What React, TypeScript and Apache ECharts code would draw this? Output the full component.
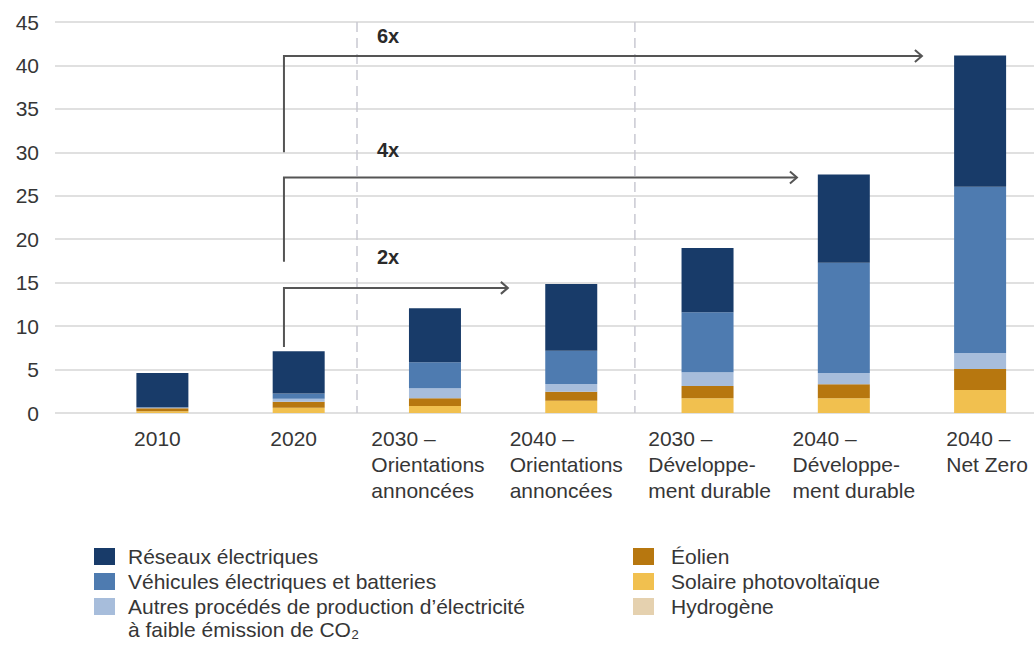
import React, { useEffect, useRef } from "react";
import * as echarts from "echarts";

const categories = [
  "2010",
  "2020",
  "2030 –\nOrientations\nannoncées",
  "2040 –\nOrientations\nannoncées",
  "2030 –\nDéveloppe-\nment durable",
  "2040 –\nDéveloppe-\nment durable",
  "2040 –\nNet Zero",
];

const solaire = [0.2, 0.6, 0.8, 1.4, 1.7, 1.7, 2.65];
const eolien = [0.35, 0.7, 0.9, 1.05, 1.4, 1.6, 2.4];
const hydrogene = [0, 0, 0, 0, 0, 0, 0];
const autres = [0.05, 0.35, 1.15, 0.9, 1.6, 1.3, 1.85];
const vehicules = [0.05, 0.6, 3.0, 3.8, 6.9, 12.7, 19.15];
const reseaux = [3.95, 4.85, 6.2, 7.7, 7.4, 10.15, 15.1];

const seriesNames = [
  "Réseaux électriques",
  "Véhicules électriques et batteries",
  "Autres procédés de production d’électricité",
  "Éolien",
  "Solaire photovoltaïque",
  "Hydrogène",
];
const autresSecondLine = "à faible émission de CO₂";

const yMin = 0;
const yMax = 45;
const yInterval = 5;

// label horizontal shifts (px) relative to the bar centre — styling only
const labelShift = [-5, -5, -7, -5, 2, 10, 7];

// annotations (category positions / values)
const arrowLabels = ["6x", "4x", "2x"];
const arrowFromValue = [30, 17.4, 7.6];
const arrowLevelValue = [41.1, 27.1, 14.4];
const arrowLabelValue = [43.4, 30.3, 17.9];
const arrowTargetPos = [5.573, 4.656, 2.535];
const arrowSourcePos = 0.892;
const arrowLabelPos = 1.574;
const separatorPos = [1.428, 3.467];

const FONT = "'Liberation Sans', Arial, Helvetica, sans-serif";
const TEXT = "#363636";

const colors: Record<string, string> = {
  [seriesNames[0]]: "#183b69",
  [seriesNames[1]]: "#4e7bb0",
  [seriesNames[2]]: "#a7bddb",
  [seriesNames[3]]: "#b7770f",
  [seriesNames[4]]: "#f1c04f",
  [seriesNames[5]]: "#e5d1af",
};

export default function App() {
  const ref = useRef<HTMLDivElement>(null);

  useEffect(() => {
    document.body.style.margin = "0";
    const chart = echarts.init(ref.current!, null, { renderer: "svg" });

    const bar = (name: string, data: number[]) => ({
      name,
      type: "bar",
      stack: "total",
      xAxisIndex: 0,
      yAxisIndex: 0,
      barWidth: 52,
      data,
      itemStyle: { color: colors[name] },
      emphasis: { disabled: true },
    });

    const helpers = (api: any) => {
      const o = api.coord([0, 0]);
      const o1 = api.coord([1, 0]);
      const step = o1[0] - o[0];
      const xAt = (f: number) => o[0] + f * step;
      const yAt = (v: number) => api.coord([0, v])[1];
      return { xAt, yAt };
    };

    const legendBase = {
      orient: "vertical",
      icon: "rect",
      itemWidth: 21,
      itemHeight: 17,
      itemGap: 0,
      padding: 0,
      selectedMode: false,
      top: 544,
    };

    const categoryItems = categories.map((c, i) => {
      const s = labelShift[i];
      return {
        value: c,
        textStyle: {
          padding: s < 0 ? [0, -2 * s, 0, 0] : [0, 0, 0, 2 * s],
        },
      };
    });

    const option: any = {
      animation: false,
      textStyle: { fontFamily: FONT },
      grid: [
        {
          left: 94.25,
          top: 22,
          width: 954,
          height: 391,
          containLabel: false,
          outerBoundsMode: "none",
        },
        {
          left: 55,
          right: 0,
          top: 22,
          height: 391,
          containLabel: false,
          outerBoundsMode: "none",
        },
      ],
      xAxis: [
        {
          type: "category",
          gridIndex: 0,
          data: categoryItems,
          axisLine: { show: false },
          axisTick: { show: false },
          axisLabel: {
            interval: 0,
            margin: 12,
            formatter: (v: string) =>
              v
                .split("\n")
                .map((l) => `{l|${l}}`)
                .join("\n"),
            rich: {
              l: {
                align: "left",
                fontSize: 21,
                lineHeight: 26,
                color: TEXT,
                fontFamily: FONT,
              },
            },
          },
        },
        { type: "value", gridIndex: 1, show: false, min: 0, max: 1 },
      ],
      yAxis: [
        {
          type: "value",
          gridIndex: 0,
          min: yMin,
          max: yMax,
          interval: yInterval,
          show: false,
          splitLine: { show: false },
        },
        {
          type: "value",
          gridIndex: 1,
          min: yMin,
          max: yMax,
          interval: yInterval,
          axisLine: { show: false },
          axisTick: { show: false },
          axisLabel: { fontSize: 21, color: TEXT, margin: 16, fontFamily: FONT },
          splitLine: { lineStyle: { color: "#d6d6d6", width: 1.5 } },
        },
      ],
      legend: [
        {
          ...legendBase,
          left: 94,
          data: seriesNames.slice(0, 3),
          textStyle: {
            fontSize: 21,
            color: TEXT,
            fontFamily: FONT,
            lineHeight: 25,
            padding: [0, 0, 0, 8],
          },
        },
        {
          ...legendBase,
          left: 633,
          data: seriesNames.slice(3),
          textStyle: {
            fontSize: 21,
            color: TEXT,
            fontFamily: FONT,
            lineHeight: 25,
            padding: [0, 0, 0, 12],
          },
        },
      ],
      graphic: [
        {
          type: "text",
          left: 128,
          top: 619,
          style: {
            text: autresSecondLine,
            fontSize: 21,
            fill: TEXT,
            fontFamily: FONT,
          },
        },
      ],
      series: [
        bar(seriesNames[4], solaire),
        bar(seriesNames[3], eolien),
        bar(seriesNames[5], hydrogene),
        bar(seriesNames[2], autres),
        bar(seriesNames[1], vehicules),
        bar(seriesNames[0], reseaux),
        {
          type: "custom",
          xAxisIndex: 0,
          yAxisIndex: 0,
          silent: true,
          data: separatorPos.map(() => [0, 0]),
          renderItem: (params: any, api: any) => {
            const { xAt, yAt } = helpers(api);
            const x = xAt(separatorPos[params.dataIndex]);
            return {
              type: "line",
              shape: { x1: x, y1: yAt(yMax), x2: x, y2: yAt(yMin) },
              style: { stroke: "#c9c9d2", lineWidth: 1.5, lineDash: [10, 6] },
            };
          },
        },
        {
          type: "custom",
          xAxisIndex: 0,
          yAxisIndex: 0,
          silent: true,
          z: 5,
          data: arrowLabels.map(() => [0, 0]),
          renderItem: (params: any, api: any) => {
            const i = params.dataIndex;
            const { xAt, yAt } = helpers(api);
            const xs = xAt(arrowSourcePos);
            const xe = xAt(arrowTargetPos[i]);
            const ys = yAt(arrowFromValue[i]);
            const yl = yAt(arrowLevelValue[i]);
            const lineStyle = { stroke: "#555555", lineWidth: 2, fill: null };
            return {
              type: "group",
              children: [
                {
                  type: "polyline",
                  shape: { points: [[xs, ys], [xs, yl], [xe, yl]] },
                  style: lineStyle,
                },
                {
                  type: "polyline",
                  shape: { points: [[xe - 7, yl - 6], [xe, yl], [xe - 7, yl + 6]] },
                  style: lineStyle,
                },
                {
                  type: "text",
                  x: xAt(arrowLabelPos),
                  y: yAt(arrowLabelValue[i]),
                  style: {
                    text: arrowLabels[i],
                    fill: "#2a2a2a",
                    fontSize: 20,
                    fontWeight: "bold",
                    fontFamily: FONT,
                    align: "left",
                    verticalAlign: "middle",
                  },
                },
              ],
            };
          },
        },
      ],
    };

    chart.setOption(option);
    return () => chart.dispose();
  }, []);

  return (
    <div
      ref={ref}
      style={{ position: "absolute", left: 0, top: 0, width: 1034, height: 646 }}
    />
  );
}
